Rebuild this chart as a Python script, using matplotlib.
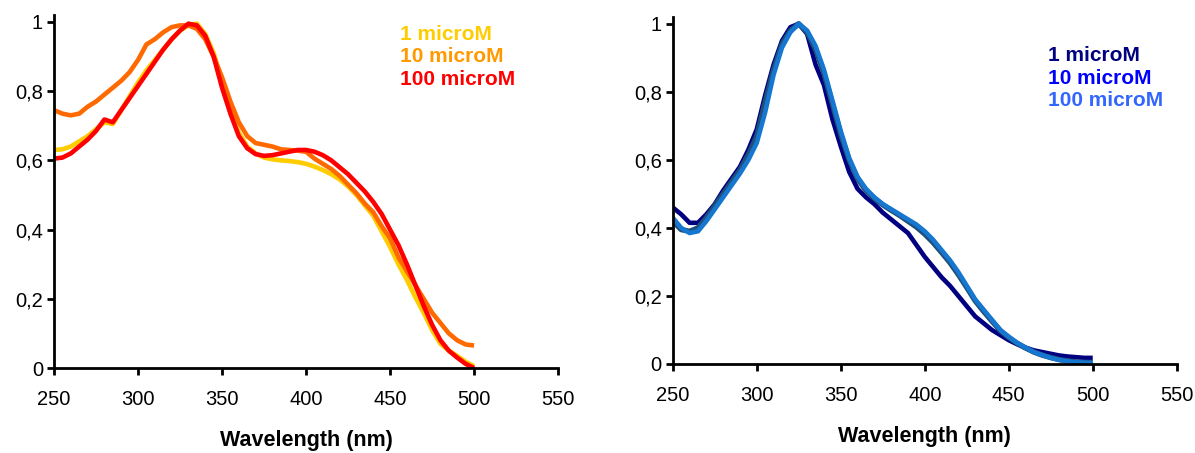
"""
Normalised absorption spectra at three concentrations, two compounds side by side
"""

import matplotlib
matplotlib.use('Agg')
import matplotlib.pyplot as plt
from matplotlib.ticker import FuncFormatter, MultipleLocator

plt.rcParams['font.family'] = ['Liberation Sans', 'DejaVu Sans']

# wavelength grid (nm), every 5 nm from 250 to 500
wavelength = list(range(250, 505, 5))

# left panel
left_1uM = [0.63, 0.632, 0.64, 0.655, 0.67, 0.69, 0.71, 0.705, 0.745, 0.785,
            0.825, 0.86, 0.89, 0.92, 0.95, 0.975, 0.99, 0.995, 0.965, 0.91,
            0.83, 0.74, 0.68, 0.64, 0.62, 0.608, 0.603, 0.60, 0.598, 0.595,
            0.59, 0.582, 0.572, 0.56, 0.545, 0.525, 0.50, 0.47, 0.44, 0.395,
            0.35, 0.30, 0.255, 0.205, 0.16, 0.11, 0.07, 0.05, 0.035, 0.018,
            0.005]
left_10uM = [0.745, 0.735, 0.73, 0.735, 0.755, 0.77, 0.79, 0.81, 0.83, 0.855,
             0.89, 0.935, 0.95, 0.97, 0.985, 0.99, 0.99, 0.98, 0.95, 0.90,
             0.84, 0.77, 0.71, 0.67, 0.65, 0.645, 0.64, 0.632, 0.63, 0.628,
             0.625, 0.605, 0.59, 0.575, 0.555, 0.53, 0.505, 0.475, 0.45, 0.41,
             0.375, 0.32, 0.28, 0.24, 0.20, 0.16, 0.13, 0.10, 0.08, 0.068,
             0.065]
left_100uM = [0.605, 0.608, 0.62, 0.64, 0.66, 0.685, 0.718, 0.71, 0.745, 0.78,
              0.815, 0.85, 0.885, 0.92, 0.95, 0.975, 0.995, 0.99, 0.96, 0.90,
              0.81, 0.735, 0.67, 0.635, 0.618, 0.613, 0.615, 0.62, 0.625, 0.63,
              0.63, 0.625, 0.615, 0.60, 0.58, 0.56, 0.535, 0.51, 0.48, 0.445,
              0.40, 0.355, 0.30, 0.24, 0.18, 0.125, 0.08, 0.05, 0.03, 0.012,
              0.0]

# right panel
right_1uM = [0.46, 0.44, 0.415, 0.415, 0.44, 0.47, 0.51, 0.545, 0.58, 0.63,
             0.69, 0.79, 0.88, 0.95, 0.99, 1.0, 0.97, 0.88, 0.82, 0.72,
             0.64, 0.565, 0.515, 0.49, 0.47, 0.445, 0.425, 0.405, 0.385, 0.35,
             0.315, 0.285, 0.255, 0.23, 0.20, 0.17, 0.14, 0.12, 0.10, 0.085,
             0.07, 0.058, 0.048, 0.04, 0.035, 0.03, 0.025, 0.022, 0.02, 0.018,
             0.018]
right_10uM = [0.42, 0.395, 0.39, 0.40, 0.43, 0.465, 0.50, 0.535, 0.57, 0.615,
              0.67, 0.77, 0.865, 0.94, 0.98, 1.0, 0.975, 0.925, 0.855, 0.765,
              0.675, 0.60, 0.545, 0.51, 0.487, 0.468, 0.452, 0.437, 0.42, 0.403,
              0.382, 0.357, 0.328, 0.298, 0.263, 0.225, 0.186, 0.155, 0.126, 0.098,
              0.078, 0.061, 0.047, 0.035, 0.026, 0.019, 0.013, 0.009, 0.006, 0.005,
              0.004]
right_100uM = [0.43, 0.40, 0.385, 0.39, 0.42, 0.455, 0.49, 0.525, 0.56, 0.60,
               0.65, 0.74, 0.85, 0.93, 0.975, 1.0, 0.98, 0.935, 0.865, 0.775,
               0.685, 0.605, 0.55, 0.515, 0.49, 0.47, 0.455, 0.44, 0.425, 0.41,
               0.39, 0.365, 0.335, 0.305, 0.27, 0.23, 0.19, 0.16, 0.13, 0.10,
               0.08, 0.062, 0.048, 0.035, 0.026, 0.018, 0.012, 0.008, 0.005, 0.004,
               0.003]

labels = ['1 microM', '10 microM', '100 microM']

left_series = [left_1uM, left_10uM, left_100uM]
left_line_colors = ['#FFCC00', '#FF6A00', '#FF0000']
left_text_colors = ['#FFCC00', '#FF9900', '#FF0000']

right_series = [right_1uM, right_10uM, right_100uM]
right_line_colors = ['#000080', '#1F4E79', '#1577CF']
right_text_colors = ['#000080', '#0000FF', '#3366FF']


def comma_fmt(v, pos):
    s = f'{v:.1f}'.rstrip('0').rstrip('.')
    return s.replace('.', ',')


def style_axes(ax, ytop):
    ax.set_xlim(250, 550)
    ax.set_ylim(0, ytop)
    ax.xaxis.set_major_locator(MultipleLocator(50))
    ax.set_yticks([0, 0.2, 0.4, 0.6, 0.8, 1.0])
    ax.yaxis.set_major_formatter(FuncFormatter(comma_fmt))
    for side in ['top', 'right']:
        ax.spines[side].set_visible(False)
    for side in ['left', 'bottom']:
        ax.spines[side].set_linewidth(2)
        ax.spines[side].set_color('black')
    ax.tick_params(axis='x', length=5, width=2, pad=11, labelsize=14.5)
    ax.tick_params(axis='y', length=5, width=2, pad=3, labelsize=14.5)
    ax.set_xlabel('Wavelength (nm)', fontsize=15.5, fontweight='bold', labelpad=15)


fig = plt.figure(figsize=(11.95, 4.53), dpi=100)
ax1 = fig.add_axes([0.0452, 0.1876, 0.4218, 0.7793])
ax2 = fig.add_axes([0.563, 0.1965, 0.4217, 0.7660])

for ys, c in zip(left_series, left_line_colors):
    ax1.plot(wavelength, ys, color=c, lw=3.3, solid_capstyle='butt')
for ys, c, lw in zip(right_series, right_line_colors, [3.3, 3.9, 3.3]):
    ax2.plot(wavelength, ys, color=c, lw=lw, solid_capstyle='butt')

style_axes(ax1, 1.02)
style_axes(ax2, 1.02)

for lab, c, yy in zip(labels, left_text_colors, [0.944, 0.882, 0.817]):
    ax1.text(0.686, yy, lab, color=c, fontsize=15, fontweight='bold',
             transform=ax1.transAxes, va='center', ha='left')
for lab, c, yy in zip(labels, right_text_colors, [0.89, 0.824, 0.758]):
    ax2.text(0.745, yy, lab, color=c, fontsize=15, fontweight='bold',
             transform=ax2.transAxes, va='center', ha='left')

fig.savefig('out.png', dpi=100)
plt.close(fig)
